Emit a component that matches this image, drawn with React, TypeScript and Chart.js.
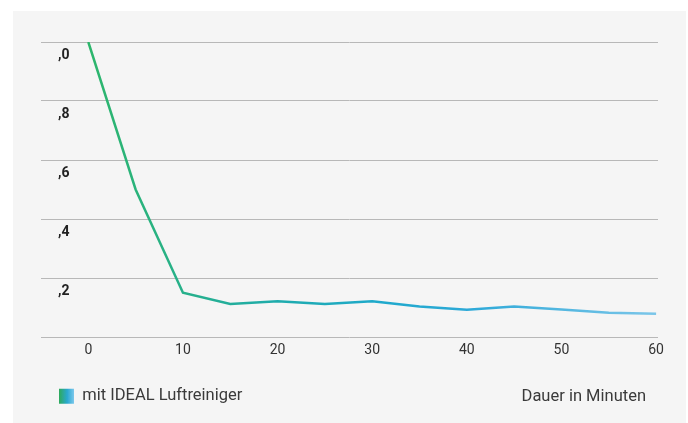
import React, { useEffect, useRef } from 'react';
import { Chart, registerables } from 'chart.js';

Chart.register(...registerables);

const minutes = [0, 5, 10, 15, 20, 25, 30, 35, 40, 45, 50, 55, 60];
const concentration = [1.0, 0.5, 0.15, 0.112, 0.121, 0.112, 0.121, 0.103, 0.092, 0.103, 0.093, 0.082, 0.079];
const xTicks = [0, 10, 20, 30, 40, 50, 60];
const yTickLabels = ['', ',2', ',4', ',6', ',8', ',0'];
const seriesName = 'mit IDEAL Luftreiniger';
const xAxisTitle = 'Dauer in Minuten';

const PAD_LEFT = 28;
const LEGEND_PAD = 18;
const BOX = 15;
const FONT = 'Roboto';

const captionPlugin = {
  id: 'xCaption',
  afterDraw(chart: any) {
    const hb = chart.legend?.legendHitBoxes?.[0];
    if (!hb) return;
    const { ctx, chartArea } = chart;
    ctx.save();
    ctx.font = `16.5px ${FONT}`;
    ctx.fillStyle = '#3a3a3a';
    ctx.textAlign = 'right';
    ctx.textBaseline = 'middle';
    ctx.fillText(xAxisTitle, chartArea.right - 12, hb.top + hb.height / 2 + 1);
    ctx.restore();
  },
};

export default function App() {
  const ref = useRef<HTMLCanvasElement>(null);
  useEffect(() => {
    const canvas = ref.current!;
    const chart = new Chart(canvas, {
      type: 'line',
      data: {
        datasets: [
          {
            label: seriesName,
            data: minutes.map((m, i) => ({ x: m, y: concentration[i] })),
            borderColor: (c: any) => {
              const area = c.chart.chartArea;
              if (!area) return '#2db66a';
              const g = c.chart.ctx.createLinearGradient(area.left, 0, area.right, 0);
              g.addColorStop(0.07, '#2db66a');
              g.addColorStop(0.23, '#27b08a');
              g.addColorStop(0.4, '#1eabb0');
              g.addColorStop(0.55, '#1fa9cc');
              g.addColorStop(0.7, '#2ea9d8');
              g.addColorStop(1, '#7cc6e9');
              return g;
            },
            borderWidth: 2.5,
            pointRadius: 0,
            tension: 0,
            fill: false,
          },
        ],
      },
      options: {
        responsive: false,
        animation: false,
        layout: { padding: { left: PAD_LEFT, right: 28, top: 31, bottom: 8.5 } },
        font: { family: FONT },
        scales: {
          x: {
            type: 'linear',
            min: -5,
            max: 60.2,
            afterBuildTicks: (s: any) => {
              s.ticks = xTicks.map((v) => ({ value: v }));
            },
            afterFit: (s: any) => {
              s.height = 33;
            },
            grid: { display: false, drawTicks: false },
            border: { display: false },
            ticks: {
              padding: 5,
              color: '#333',
              font: { family: FONT, size: 14 },
              maxRotation: 0,
              autoSkip: false,
            },
          },
          y: {
            min: 0,
            max: 1,
            afterFit: (s: any) => {
              s.width = 0;
            },
            grid: { color: '#b8b8b8', lineWidth: 1, drawTicks: false },
            border: { display: false },
            ticks: {
              stepSize: 0.2,
              mirror: true,
              padding: 17,
              labelOffset: 13,
              color: '#222',
              font: { family: FONT, size: 14, weight: 'bold' },
              callback: (_v: any, i: number) => yTickLabels[i],
            },
          },
        },
        plugins: {
          tooltip: { enabled: false },
          legend: {
            position: 'bottom',
            align: 'start',
            labels: {
              boxWidth: BOX,
              boxHeight: BOX,
              padding: LEGEND_PAD,
              color: '#3a3a3a',
              font: { family: FONT, size: 16.5 },
              generateLabels: (ch: any) => {
                const x0 = PAD_LEFT + LEGEND_PAD;
                const g = ch.ctx.createLinearGradient(x0, 0, x0 + BOX, 0);
                g.addColorStop(0, '#2eaa5a');
                g.addColorStop(0.55, '#2aa8d0');
                g.addColorStop(1, '#7cc8ec');
                return [
                  {
                    text: seriesName,
                    fillStyle: g,
                    strokeStyle: 'rgba(0,0,0,0)',
                    lineWidth: 0,
                    hidden: false,
                    datasetIndex: 0,
                    fontColor: '#3a3a3a',
                  },
                ];
              },
            },
          },
        },
      },
      plugins: [captionPlugin],
    } as any);
    return () => chart.destroy();
  }, []);

  return (
    <div
      style={{
        position: 'absolute',
        left: 13,
        top: 11,
        width: 673,
        height: 412,
        background: '#f5f5f5',
      }}
    >
      <canvas ref={ref} width={673} height={412} />
    </div>
  );
}
